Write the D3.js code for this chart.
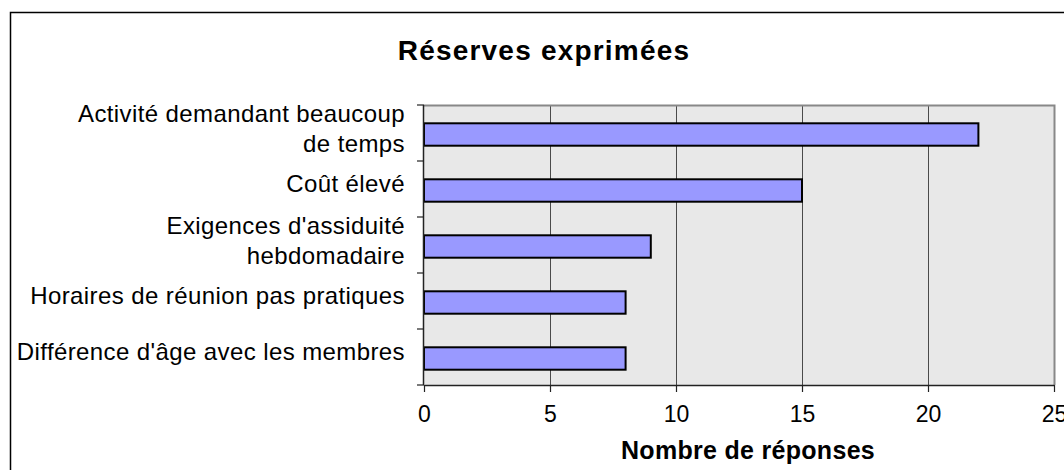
<!DOCTYPE html>
<html>
    <head>
        <meta charset="utf-8">
        <title>Réserves exprimées</title>
        <style>
            html, body {
                margin: 0px;
                padding: 0px;
                background-color: #fff;
                font-family: "Liberation Sans", Arial, sans-serif;
            }

            svg text {
                fill: #000;
            }

            .title {
                font-size: 28px;
                font-weight: bold;
                letter-spacing: 1.2px;
            }

            .axisTitle {
                font-size: 25px;
                font-weight: bold;
                letter-spacing: 0.3px;
            }

            .catLabel {
                font-size: 24px;
                letter-spacing: 0.4px;
            }

            .tickLabel {
                font-size: 23px;
            }
        </style>
        <script src="https://cdn.jsdelivr.net/npm/d3@7"></script>
    </head>
    <body>
        <div id="main"></div>

        <script>
            // categories, top to bottom (line breaks as in the original)
            var categories = [
                "Activité demandant beaucoup\nde temps",
                "Coût élevé",
                "Exigences d'assiduité\nhebdomadaire",
                "Horaires de réunion pas pratiques",
                "Différence d'âge avec les membres"
            ];
            var responses = [22, 15, 9, 8, 8];
            var tickValues = [0, 5, 10, 15, 20, 25];

            var width = 1064;
            var height = 470;
            var plot = { left: 424, right: 1054, top: 105, bottom: 385 };

            var svg = d3.select("#main")
                .append("svg")
                .attr("width", width)
                .attr("height", height);

            // outer chart frame (right and bottom edges fall outside the picture)
            svg.append("rect")
                .attr("x", 10.5)
                .attr("y", 12.5)
                .attr("width", width + 20)
                .attr("height", height + 20)
                .attr("fill", "#fff")
                .attr("stroke", "#000")
                .attr("stroke-width", 1.5);

            var x = d3.scaleLinear()
                .domain([0, 25])
                .range([plot.left, plot.right]);

            var y = d3.scaleBand()
                .domain(categories)
                .range([plot.top, plot.bottom])
                .paddingInner(0.6)
                .paddingOuter(0.3);

            var step = y.step();

            // plot background
            svg.append("rect")
                .attr("x", plot.left)
                .attr("y", plot.top)
                .attr("width", plot.right - plot.left)
                .attr("height", plot.bottom - plot.top)
                .attr("fill", "#e8e8e8")
                .attr("stroke", "none");

            // vertical gridlines
            svg.append("g")
                .selectAll("line")
                .data(tickValues.slice(1, -1))
                .enter()
                .append("line")
                .attr("x1", function(d) { return Math.round(x(d)) + 0.5; })
                .attr("x2", function(d) { return Math.round(x(d)) + 0.5; })
                .attr("y1", plot.top)
                .attr("y2", plot.bottom)
                .attr("stroke", "#4a4a4a")
                .attr("stroke-width", 1);

            // top and right borders of the plot area
            svg.append("path")
                .attr("d", "M" + plot.left + "," + (plot.top + 0.5) + "H" + (plot.right + 0.5) + "V" + plot.bottom)
                .attr("fill", "none")
                .attr("stroke", "#888")
                .attr("stroke-width", 2);

            // bars
            svg.append("g")
                .selectAll("rect")
                .data(responses)
                .enter()
                .append("rect")
                .attr("x", x(0))
                .attr("y", function(d, i) { return y(categories[i]) + 1.5; })
                .attr("width", function(d) { return x(d) - x(0); })
                .attr("height", y.bandwidth())
                .attr("fill", "#9999ff")
                .attr("stroke", "#000")
                .attr("stroke-width", 2);

            // left axis: line plus ticks at category boundaries
            var leftAxis = svg.append("g");
            leftAxis.append("line")
                .attr("x1", plot.left - 0.5)
                .attr("x2", plot.left - 0.5)
                .attr("y1", plot.top)
                .attr("y2", plot.bottom)
                .attr("stroke", "#222")
                .attr("stroke-width", 1.5);
            leftAxis.selectAll(".tick")
                .data(d3.range(categories.length + 1))
                .enter()
                .append("line")
                .attr("x1", plot.left - 7)
                .attr("x2", plot.left)
                .attr("y1", function(i) { return plot.top + i * step; })
                .attr("y2", function(i) { return plot.top + i * step; })
                .attr("stroke", "#222")
                .attr("stroke-width", 1.2);

            // category labels, right aligned, possibly on two lines
            var labels = svg.append("g")
                .selectAll("text")
                .data(categories)
                .enter()
                .append("text")
                .attr("class", "catLabel")
                .attr("text-anchor", "end");

            labels.each(function(d) {
                var lines = d.split("\n");
                var cy = y(d) + y.bandwidth() / 2;
                var base = cy + 3 - (lines.length - 1) * 14;
                var t = d3.select(this);
                lines.forEach(function(line, k) {
                    t.append("tspan")
                        .attr("x", 405)
                        .attr("y", base + k * 30)
                        .text(line);
                });
            });

            // bottom axis
            var bottomAxis = d3.axisBottom(x)
                .tickValues(tickValues)
                .tickSize(7)
                .tickPadding(14)
                .tickSizeOuter(0);

            var gx = svg.append("g")
                .attr("transform", "translate(0," + plot.bottom + ")")
                .call(bottomAxis);

            gx.select(".domain")
                .attr("stroke", "#222")
                .attr("stroke-width", 1.5);
            gx.selectAll(".tick line")
                .attr("stroke", "#222")
                .attr("stroke-width", 1.2);
            gx.selectAll(".tick text")
                .attr("class", "tickLabel")
                .attr("fill", "#000")
                .style("font-family", "'Liberation Sans', Arial, sans-serif");

            // titles
            svg.append("text")
                .attr("class", "title")
                .attr("x", 544)
                .attr("y", 60)
                .attr("text-anchor", "middle")
                .text("Réserves exprimées");

            svg.append("text")
                .attr("class", "axisTitle")
                .attr("x", 748)
                .attr("y", 459)
                .attr("text-anchor", "middle")
                .text("Nombre de réponses");
        </script>
    </body>
</html>
